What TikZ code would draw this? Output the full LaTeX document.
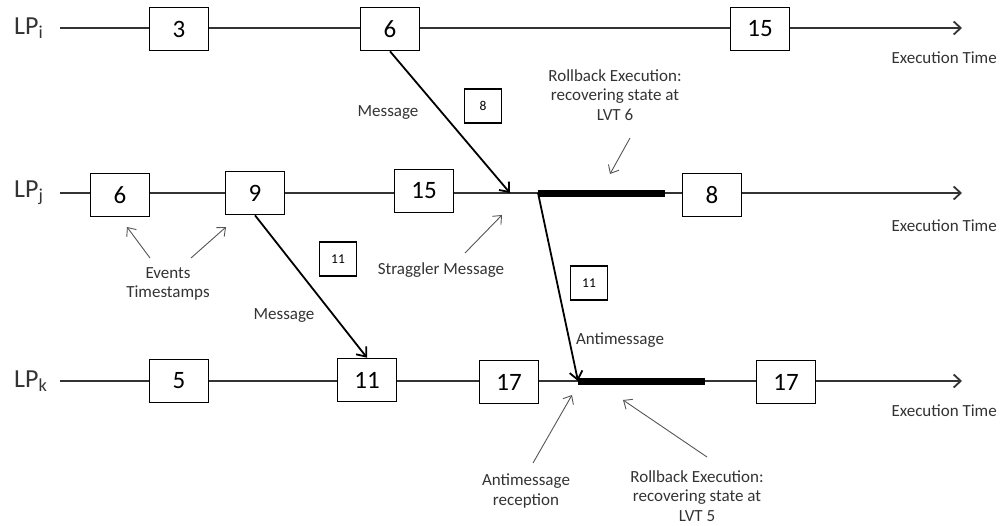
\documentclass[tikz,border=0pt]{standalone}
\usepackage{fontspec}
\setmainfont{Carlito}
\usetikzlibrary{arrows.meta}
\definecolor{ink}{HTML}{333333}
\definecolor{pointer}{HTML}{555555}
\begin{document}
\begin{tikzpicture}[x=1pt,y=-1pt,
  tl/.style={line width=1.8pt, draw=ink, -{Straight Barb[length=7pt,width=13pt,line width=1.8pt]}},
  ev/.style={draw=black, line width=1.6pt, fill=white, minimum width=59pt, minimum height=43pt, inner sep=0pt, font=\fontsize{25}{27}\selectfont},
  tag/.style={draw=black, line width=1.3pt, fill=white, minimum width=37pt, minimum height=34pt, inner sep=0pt, font=\fontsize{13.5}{15}\selectfont},
  msg/.style={line width=1.8pt, draw=black, -{Straight Barb[length=8pt,width=13pt,line width=1.8pt]}},
  note/.style={line width=0.9pt, draw=pointer, -{Straight Barb[length=7pt,width=12pt,line width=0.9pt]}},
  lbl/.style={text=ink, font=\fontsize{17}{19.5}\selectfont, align=center, inner sep=0pt},
  lp/.style={font=\fontsize{26}{28}\selectfont, anchor=west, inner sep=0pt, text=ink},
  rbar/.style={line width=7pt, draw=black}
]
\useasboundingbox (0,0) rectangle (1001,525);

% ---- process LP_i ----
\node[lp] (lpi) at (14,28) {LP\textsubscript{i}};
\coordinate (is) at (60,28);
\coordinate (ie) at (962,28);
\draw[tl] (is) -- (ie);
\node[ev] (i3)  at (179,29) {3};
\node[ev] (i6)  at (390,29) {6};
\node[ev] (i15) at (760,29) {15};
\node[lbl, anchor=east] (iexec) at (997,58) {Execution Time};

% ---- process LP_j ----
\node[lp] (lpj) at (14,193) {LP\textsubscript{j}};
\coordinate (js) at (60,193);
\coordinate (je) at (962,193);
\draw[tl] (js) -- (je);
\coordinate (jrb1) at (538,193);
\coordinate (jrb2) at (665,193);
\draw[rbar] (jrb1) -- (jrb2);
\node[ev] (j6)  at (120,195) {6};
\node[ev] (j9)  at (255,193) {9};
\node[ev] (j15) at (424,191) {15};
\node[ev] (j8)  at (712,195) {8};
\node[lbl, anchor=east] (jexec) at (997,226) {Execution Time};
\coordinate (jin) at (510,193);

% ---- process LP_k ----
\node[lp] (lpk) at (14,381) {LP\textsubscript{k}};
\coordinate (ks) at (60,381);
\coordinate (ke) at (962,381);
\draw[tl] (ks) -- (ke);
\coordinate (krb1) at (578,381);
\coordinate (krb2) at (705,381);
\draw[rbar] (krb1) -- (krb2);
\node[ev] (k5)   at (179,381) {5};
\node[ev] (k11)  at (367,380) {11};
\node[ev] (k17a) at (509,382) {17};
\node[ev] (k17b) at (786,382) {17};
\node[lbl, anchor=east] (kexec) at (997,411) {Execution Time};

% ---- messages between processes ----
\draw[msg] (i6.south) -- (jin);
\node[lbl] (m1) at (388,113) {Message};
\node[tag] (t8) at (483,106) {8};

\draw[msg] (j9.south) -- (k11.north);
\node[lbl] (m2) at (284,316) {Message};
\node[tag] (t11a) at (338,259) {11};

\draw[msg] (jrb1) -- (krb1);
\node[lbl] (am) at (620,340) {Antimessage};
\node[tag] (t11b) at (589,283) {11};

% ---- annotations ----
\node[lbl] (rbj) at (615,95) {Rollback Execution:\\recovering state at\\LVT 6};
\coordinate (rbjfrom) at (630,138);
\coordinate (rbjto) at (610,174);
\draw[note] (rbjfrom) -- (rbjto);

\node[lbl] (evts) at (168,284) {Events\\Timestamps};
\coordinate (ev1from) at (150,258);
\coordinate (ev1to) at (127,227);
\coordinate (ev2from) at (191,258);
\coordinate (ev2to) at (226,227);
\draw[note] (ev1from) -- (ev1to);
\draw[note] (ev2from) -- (ev2to);

\node[lbl] (strag) at (441,270) {Straggler Message};
\coordinate (stfrom) at (465,253);
\coordinate (stto) at (502,215);
\draw[note] (stfrom) -- (stto);

\node[lbl] (amr) at (526,491) {Antimessage\\reception};
\coordinate (amrfrom) at (533,463);
\coordinate (amrto) at (572,395);
\draw[note] (amrfrom) -- (amrto);

\node[lbl] (rbk) at (697,496) {Rollback Execution:\\recovering state at\\LVT 5};
\coordinate (rbkfrom) at (707,457);
\coordinate (rbkto) at (623,400);
\draw[note] (rbkfrom) -- (rbkto);
\end{tikzpicture}
\end{document}
